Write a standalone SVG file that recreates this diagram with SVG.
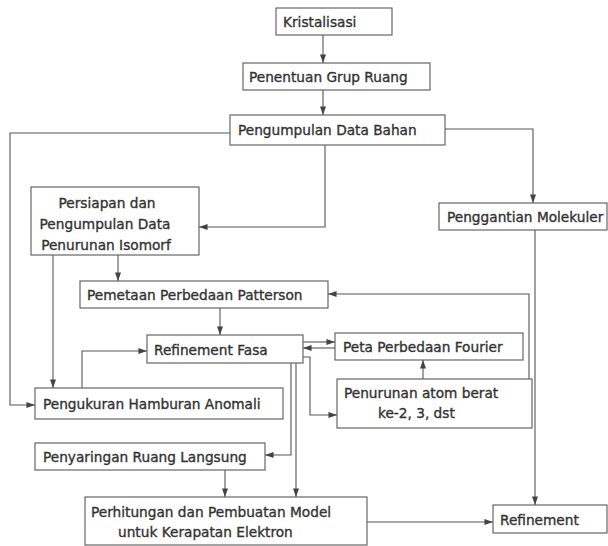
<svg xmlns="http://www.w3.org/2000/svg" width="608" height="546" viewBox="0 0 608 546">
<defs>
<marker id="ah" viewBox="0 0 10 7" refX="10" refY="3.5" markerWidth="9" markerHeight="6" markerUnits="userSpaceOnUse" orient="auto">
<path d="M0,0 L10,3.5 L0,7 z" fill="#444"/>
</marker>
<style>
.box{fill:#fff;stroke:#666;stroke-width:1.2}
.t{font-family:"DejaVu Sans",Verdana,sans-serif;font-size:13.7px;fill:#333;stroke:#333;stroke-width:0.35}
.c{fill:none;stroke:#555;stroke-width:1.1}
.a{marker-end:url(#ah)}
</style>
</defs>
<rect width="608" height="546" fill="#fff"/>
<g id="connectors">
<path class="c a" d="M323,35 V63"/>
<path class="c a" d="M323,90 V115"/>
<path class="c a" d="M230,133 H10 V405 H35"/>
<path class="c a" d="M445,129 H533 V203"/>
<path class="c a" d="M325,145 V227 H199"/>
<path class="c a" d="M118,255 V281"/>
<path class="c a" d="M53,255 V388"/>
<path class="c a" d="M220,308 V335"/>
<path class="c a" d="M82,388 V351 H147"/>
<path class="c a" d="M303,342 H335"/>
<path class="c a" d="M335,348 H303"/>
<path class="c a" d="M303,357 H310 V415 H337"/>
<path class="c a" d="M291,363 V455 H265"/>
<path class="c a" d="M296,363 V497"/>
<path class="c a" d="M423,379 V360"/>
<path class="c a" d="M529,379 V294 H328"/>
<path class="c a" d="M535,230 V505"/>
<path class="c a" d="M225,470 V497"/>
<path class="c a" d="M367,522 H493"/>
</g>
<g id="kristalisasi"><rect class="box" x="276" y="8" width="116" height="27"/><text class="t" x="283" y="27">Kristalisasi</text></g>
<g id="penentuan"><rect class="box" x="243" y="63" width="187" height="27"/><text class="t" x="249" y="82">Penentuan Grup Ruang</text></g>
<g id="pengumpulan"><rect class="box" x="230" y="115" width="215" height="30"/><text class="t" x="238" y="135">Pengumpulan Data Bahan</text></g>
<g id="persiapan"><rect class="box" x="31" y="187" width="168" height="68"/><text class="t" text-anchor="middle"><tspan x="107" y="208">Persiapan dan</tspan><tspan x="105" y="229">Pengumpulan Data</tspan><tspan x="106" y="250">Penurunan Isomorf</tspan></text></g>
<g id="penggantian"><rect class="box" x="439" y="203" width="168" height="27"/><text class="t" x="447" y="222">Penggantian Molekuler</text></g>
<g id="pemetaan"><rect class="box" x="80" y="281" width="248" height="27"/><text class="t" x="87" y="300">Pemetaan Perbedaan Patterson</text></g>
<g id="refinement-fasa"><rect class="box" x="147" y="335" width="156" height="28"/><text class="t" x="154" y="355">Refinement Fasa</text></g>
<g id="peta-fourier"><rect class="box" x="335" y="333" width="188" height="27"/><text class="t" x="343" y="352">Peta Perbedaan Fourier</text></g>
<g id="penurunan-atom"><rect class="box" x="337" y="379" width="195" height="49"/><text class="t"><tspan x="344" y="398">Penurunan atom berat</tspan><tspan x="378" y="418">ke-2, 3, dst</tspan></text></g>
<g id="pengukuran"><rect class="box" x="35" y="388" width="248" height="31"/><text class="t" x="43" y="409">Pengukuran Hamburan Anomali</text></g>
<g id="penyaringan"><rect class="box" x="35" y="443" width="230" height="27"/><text class="t" x="43" y="462">Penyaringan Ruang Langsung</text></g>
<g id="perhitungan"><rect class="box" x="85" y="497" width="282" height="48"/><text class="t"><tspan x="91" y="517">Perhitungan dan Pembuatan Model</tspan><tspan x="118" y="537">untuk Kerapatan Elektron</tspan></text></g>
<g id="refinement"><rect class="box" x="493" y="505" width="114" height="28"/><text class="t" x="500" y="525">Refinement</text></g>
</svg>
